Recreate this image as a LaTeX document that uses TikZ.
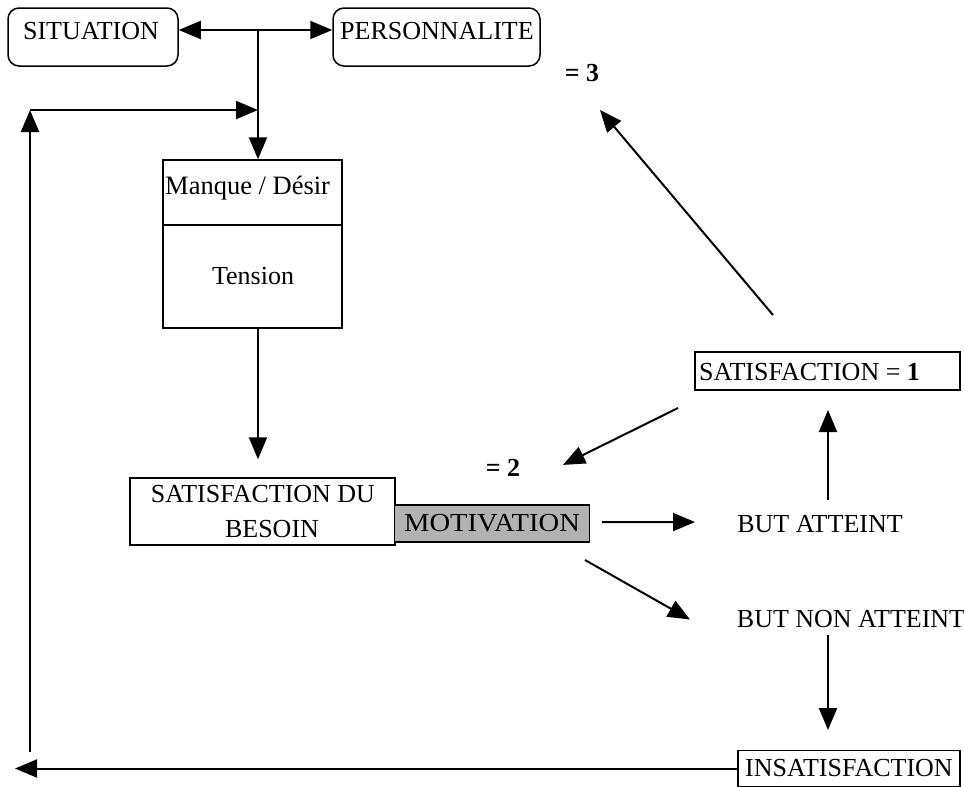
\documentclass[tikz,border=0pt]{standalone}
\usepackage{fontspec}
\setmainfont{Liberation Serif}
\usetikzlibrary{arrows.meta,calc}
\begin{document}
\begin{tikzpicture}[x=1pt,y=-1pt,
  every node/.style={font=\fontsize{26}{30}\selectfont},
  txt/.style={inner sep=0pt, anchor=base},
  frame/.style={draw, line width=1.5pt, inner sep=0pt},
  rframe/.style={frame, rounded corners=11pt},
  shaded/.style={frame, fill=black!30},
  link/.style={line width=2pt},
  arr/.style={link, -{Triangle[length=22pt,width=18pt]}}]
\useasboundingbox (0,0) rectangle (964,787);

% --- top: situation and personality
\node[rframe, minimum width=170pt, minimum height=58pt] (sit) at (93,37) {};
\node[txt] (sitT) at (91,39) {SITUATION};
\node[rframe, minimum width=207pt, minimum height=58pt] (pers) at (436.5,37) {};
\node[txt] (persT) at (437,39) {PERSONNALITE};
\coordinate (junc) at (258,30);

% --- lack / tension box
\node[frame, minimum width=179pt, minimum height=168pt] (manque) at (252.5,244) {};
\node[txt, anchor=base west, font=\fontsize{26.5}{30}\selectfont] (manqueT) at (165,194) {Manque / Désir};
\node[txt] (tension) at (253,284) {Tension};
\draw[line width=1.2pt] ([shift={(2,-19)}]manque.west) -- ([shift={(0,-19)}]manque.east);

% --- need satisfaction and motivation
\node[frame, minimum width=265pt, minimum height=67pt] (besoin) at (262.5,511.5) {};
\node[txt] (besoinT1) at (263,502) {SATISFACTION DU};
\node[txt] (besoinT2) at (272,537) {BESOIN};
\node[shaded, minimum width=195pt, minimum height=37pt] (motiv) at (492,523.5)
  {\scalebox{1.1}[1]{MOTIVATION}};

% --- outcomes
\node[txt] (butA) at (820,532) {BUT ATTEINT};
\node[txt] (butNA) at (851,627) {BUT NON ATTEINT};
\node[frame, minimum width=265pt, minimum height=38pt] (sat1) at (827.5,371) {};
\node[txt, anchor=base west] (sat1T) at (699,380) {SATISFACTION = \textbf{1}};
\node[frame, minimum width=222pt, minimum height=36pt] (insat) at (849,768.5) {INSATISFACTION};
\node[txt, font=\fontsize{26}{30}\selectfont\bfseries] (two) at (503,476) {= 2};
\node[txt, font=\fontsize{26}{30}\selectfont\bfseries] (three) at (582,81) {= 3};

% --- connectors at the top
\draw[arr] (junc) -- (sit.east |- junc);
\draw[arr] (junc) -- (pers.west |- junc);
\draw[arr] (junc) -- (junc |- manque.north);
\draw[arr, shorten >=18pt] (junc |- manque.south) -- (junc |- besoin.north);

% --- feedback loop
\coordinate (loopL) at (30,110);
\coordinate (loopB) at (30,752);
\coordinate (retour) at (15,768.5);
\draw[arr] (loopB) -- (loopL);
\draw[arr] (loopL) -- (junc |- loopL);
\draw[arr] (insat.west) -- (retour);

% --- right-hand connectors
\draw[arr] ([shift={(110,-1.5)}]motiv.center) -- ([shift={(-125,-1.5)}]butA.center);
\draw[arr] ([shift={(93,36.5)}]motiv.center) -- ([shift={(-161,1)}]butNA.center);
\draw[arr] ([shift={(8,-23.5)}]butA.center) -- ([shift={(0.5,39)}]sat1.center);
\draw[arr] ([shift={(-23,16.5)}]butNA.center) -- ([shift={(-21,-38.5)}]insat.center);
\draw[arr] ([shift={(-149.5,37)}]sat1.center) -- ([shift={(60,-2.5)}]two.center);
\draw[arr] ([shift={(-54.5,-56)}]sat1.center) -- ([shift={(18,37.5)}]three.center);
\end{tikzpicture}
\end{document}
